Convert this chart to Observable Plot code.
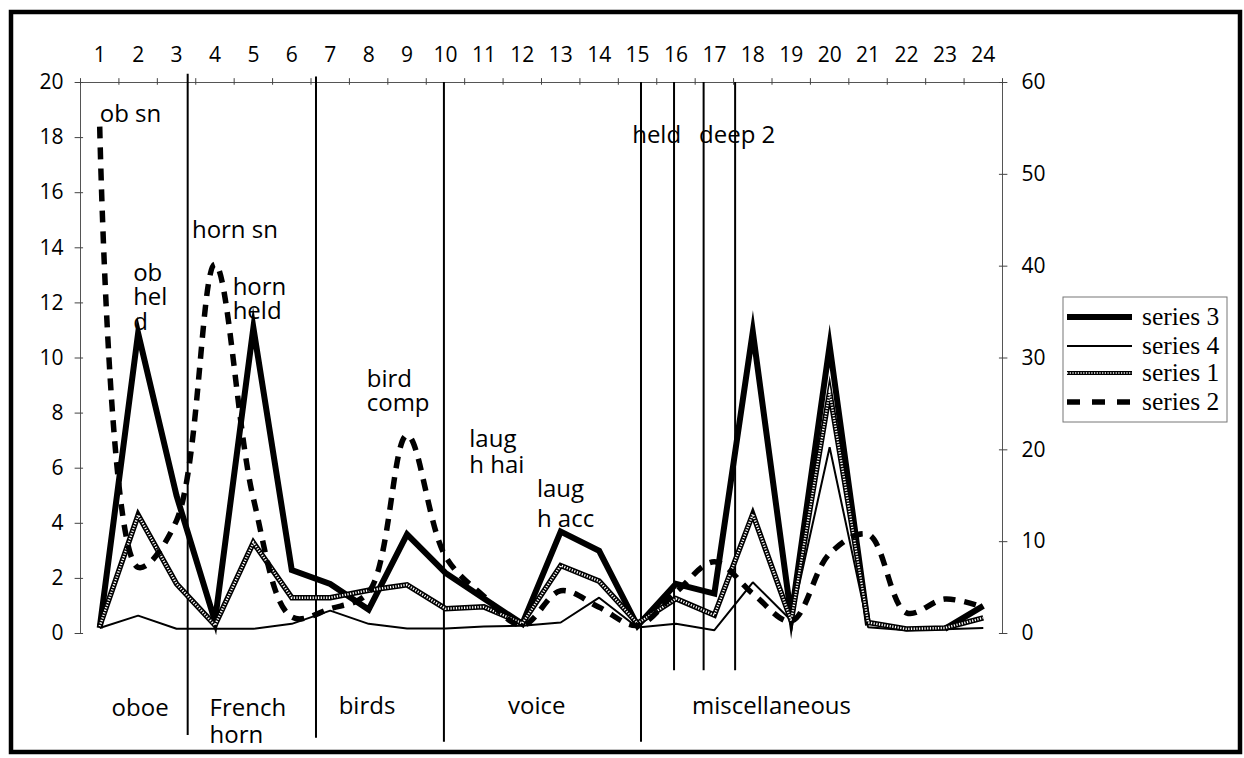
<!DOCTYPE html>
<html>
<head>
<meta charset="utf-8">
<script src="https://cdn.jsdelivr.net/npm/d3@7"></script>
<script src="https://cdn.jsdelivr.net/npm/@observablehq/plot@0.6"></script>
<style>
  html, body { margin: 0; padding: 0; background: white; }
  #chart { width: 1244px; height: 758px; }
</style>
</head>
<body>
<div id="chart"></div>
<script>
// ---- data ----
const categories = [1,2,3,4,5,6,7,8,9,10,11,12,13,14,15,16,17,18,19,20,21,22,23,24];
// left axis (0-20)
const series3 = [0.2,10.9,5.0,0.45,11.1,2.3,1.8,0.87,3.6,2.2,1.27,0.35,3.7,3.0,0.28,1.8,1.45,10.95,0.6,10.45,0.3,null,0.17,1.0];
const series4 = [0.2,0.65,0.17,0.17,0.17,0.35,0.83,0.35,0.18,0.18,0.25,0.28,0.4,1.3,0.22,0.35,0.12,1.86,0.47,6.76,0.23,0.12,0.15,0.2];
// right axis (0-60)
const series1 = [0.8,12.9,5.4,0.9,9.9,3.9,3.9,4.7,5.3,2.7,2.9,1.1,7.4,5.7,1.1,3.8,2.0,13.0,1.4,26.3,1.2,0.5,0.6,1.7];
const series2 = [55.2,7.2,12.3,40.2,14.7,1.8,2.7,4.5,21.6,8.4,4.05,0.9,4.65,2.85,0.9,4.5,7.8,4.35,1.35,8.7,10.8,2.25,3.75,2.85];

const leftTicks = [0,2,4,6,8,10,12,14,16,18,20];
const rightTicks = [0,10,20,30,40,50,60];
const categoryBounds = [0.5,1.5,2.5,3.5,4.5,5.5,6.5,7.5,8.5,9.5,10.5,11.5,12.5,13.5,14.5,15.5,16.5,17.5,18.5,19.5,20.5,21.5,22.5,23.5,24.5];

// hand-drawn divider lines (x in category units, extent in left-axis units)
const dividerX      = [3.29, 6.63, 9.96, 15.09, 15.95, 16.72, 17.54];
const dividerBottom = [-3.7, -3.8, -3.95, -3.95, -1.35, -1.35, -1.35];
const dividerTop    = [20.3, 20.2, 20, 20, 20, 20, 20];

// annotations: text, left x (category units), baseline of last line (left-axis units), line height (em)
const noteText = ["ob sn", "ob\nhel\nd", "horn sn", "horn\nheld", "bird\ncomp", "laug\nh hai", "laug\nh acc", "held", "deep 2",
                  "oboe", "French\nhorn", "birds", "voice", "miscellaneous"];
const noteX    = [1.0, 1.87, 3.4, 4.46, 7.95, 10.62, 12.38, 14.86, 16.6,
                  1.31, 3.86, 7.22, 11.63, 16.42];
const noteY    = [18.58, 11.0, 14.37, 11.43, 8.06, 5.81, 3.85, 17.82, 17.82,
                  -2.98, -3.96, -2.92, -2.92, -2.92];
const noteLH   = [1, 1.04, 1, 1.0, 1.0, 1.12, 1.25, 1, 1,
                  1, 1.12, 1, 1, 1];

const legendNames = ["series 3","series 4","series 1","series 2"];

const font = "'Open Sans', sans-serif";
const idx = (arr) => arr.map((_, i) => i);

const plot = Plot.plot({
  width: 1244,
  height: 758,
  marginLeft: 80,
  marginRight: 242,
  marginTop: 82,
  marginBottom: 125,
  x: {domain: [0.5, 24.5], axis: null},
  y: {domain: [0, 20], axis: null},
  style: {fontFamily: font, fontSize: "21px", background: "white", color: "black", overflow: "visible"},
  marks: [
    // axis lines
    Plot.ruleX([0.5], {y1: 0, y2: 20, stroke: "#555", strokeWidth: 1}),
    Plot.ruleX([24.5], {y1: 0, y2: 20, stroke: "#555", strokeWidth: 1}),
    Plot.ruleY([20], {x1: 0.5, x2: 24.5, stroke: "#555", strokeWidth: 1}),
    // tick marks crossing the axes
    Plot.ruleY(leftTicks, {y: d => d, x1: 0.5 - 0.14, x2: 0.5 + 0.08, stroke: "#444"}),
    Plot.ruleY(rightTicks, {y: d => d / 3, x1: 24.5 - 0.08, x2: 24.5 + 0.14, stroke: "#444"}),
    Plot.ruleX(categoryBounds, {x: d => d, y1: 20 - 0.1, y2: 20 + 0.14, stroke: "#444"}),
    // axis labels
    Plot.axisX({anchor: "top", ticks: categories, tickSize: 0, tickPadding: 21, label: null, tickFormat: d => d}),
    Plot.axisY({anchor: "left", ticks: leftTicks, tickSize: 0, tickPadding: 17, label: null, tickFormat: d => d}),
    Plot.axisY({anchor: "right", ticks: rightTicks.map(v => v / 3), tickSize: 0, tickPadding: 19, label: null, tickFormat: d => Math.round(d * 3)}),
    // divider lines
    Plot.ruleX(idx(dividerX), {x: i => dividerX[i], y1: i => dividerBottom[i], y2: i => dividerTop[i], stroke: "black", strokeWidth: 2}),
    // series 3 (thick solid, left axis)
    Plot.line(categories, {x: d => d, y: (d, i) => series3[i], stroke: "black", strokeWidth: 6, strokeLinejoin: "miter", strokeMiterlimit: 8, strokeLinecap: "butt"}),
    // series 4 (thin solid, left axis)
    Plot.line(categories, {x: d => d, y: (d, i) => series4[i], stroke: "black", strokeWidth: 2, strokeLinejoin: "miter", strokeLinecap: "butt"}),
    // series 1 (checkered, right axis)
    Plot.line(categories, {x: d => d, y: (d, i) => series1[i] / 3, stroke: "black", strokeWidth: 5.5, strokeLinejoin: "miter", strokeMiterlimit: 8, strokeLinecap: "butt"}),
    Plot.line(categories, {x: d => d, y: (d, i) => series1[i] / 3, stroke: "white", strokeWidth: 2.4, strokeDasharray: "1.2,1.5", strokeLinejoin: "miter", strokeMiterlimit: 8, strokeLinecap: "butt"}),
    // series 2 (dashed, smoothed, right axis)
    Plot.line(categories, {x: d => d, y: (d, i) => series2[i] / 3, curve: "catmull-rom", stroke: "black", strokeWidth: 5.5, strokeDasharray: "12,9", strokeLinecap: "butt"}),
    // annotations (one text mark each so every block keeps its own line spacing)
    ...idx(noteText).map(i => Plot.text([i], {
      x: () => noteX[i], y: () => noteY[i], text: () => noteText[i],
      textAnchor: "start", lineAnchor: "bottom", lineHeight: noteLH[i], fontSize: 24, fill: "black"
    }))
  ]
});

document.getElementById("chart").appendChild(plot);

// legend + outer border
const svg = d3.select(plot);
const lg = svg.append("g").attr("font-family", "'Liberation Serif', serif").attr("font-size", 25.5).attr("text-anchor", "start");
lg.append("rect").attr("x", 1063).attr("y", 297).attr("width", 164).attr("height", 125)
  .attr("fill", "white").attr("stroke", "#777").attr("stroke-width", 1);
const ly = [317, 346, 373, 402];
legendNames.forEach((name, i) => {
  const y = ly[i];
  const line = (attrs) => {
    const l = lg.append("line").attr("x1", 1067).attr("x2", 1132).attr("y1", y).attr("y2", y);
    for (const k in attrs) l.attr(k, attrs[k]);
  };
  if (name === "series 3") line({stroke: "black", "stroke-width": 6});
  if (name === "series 4") line({stroke: "black", "stroke-width": 2});
  if (name === "series 1") { line({stroke: "black", "stroke-width": 4}); line({stroke: "white", "stroke-width": 1.6, "stroke-dasharray": "1.2,1.5"}); }
  if (name === "series 2") line({stroke: "black", "stroke-width": 5.5, "stroke-dasharray": "13,12"});
  lg.append("text").attr("x", 1142).attr("y", y + 8).attr("text-anchor", "start").text(name);
});
svg.append("rect").attr("x", 11).attr("y", 12).attr("width", 1229).attr("height", 740)
  .attr("fill", "none").attr("stroke", "black").attr("stroke-width", 4.5);
</script>
</body>
</html>
